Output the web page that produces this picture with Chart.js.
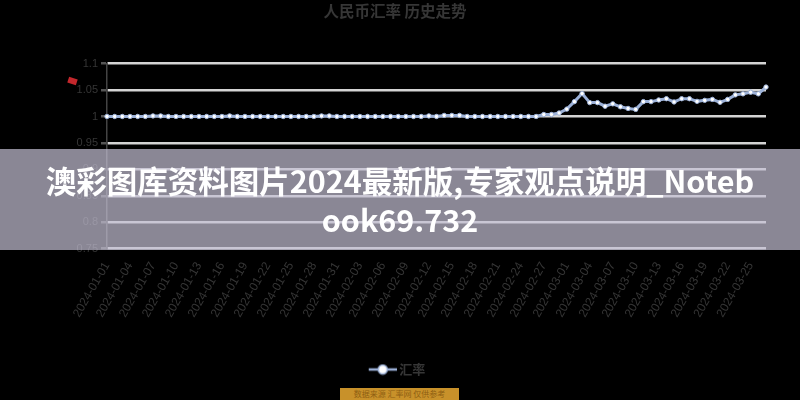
<!DOCTYPE html>
<html>
<head>
<meta charset="utf-8">
<script src="https://cdn.jsdelivr.net/npm/chart.js@4.4.1/dist/chart.umd.min.js"></script>
<style>
    html, body { margin: 0; padding: 0; background: #000; }
    #wrap { position: relative; width: 800px; height: 400px; overflow: hidden; }
    #banner {
        position: absolute; left: 0; top: 149px; width: 800px; height: 101px;
        background: rgba(196, 193, 212, 0.7);
        color: #fff; font-family: "Noto Sans CJK SC", "Noto Sans", sans-serif;
        font-weight: 700; font-size: 30.5px; line-height: 39px; text-align: center;
        padding-top: 12px; box-sizing: border-box; white-space: nowrap;
    }
    #marker {
        position: absolute; left: 68px; top: 78px; width: 9px; height: 6px;
        background: #c3272c; transform: rotate(18deg);
    }
    #source {
        position: absolute; left: 340px; top: 388px; width: 119px; height: 14px;
        background: #c8912a; color: #8f5f12; font-family: "Noto Sans CJK SC", sans-serif;
        font-size: 8px; line-height: 12px; text-align: center; white-space: nowrap;
    }
</style>
</head>
<body>
<div id="wrap">
    <canvas id="chart" width="800" height="400"></canvas>
    <div id="marker"></div>
    <div id="banner">澳彩图库资料图片2024最新版,专家观点说明_Noteb<br>ook69.732</div>
    <div id="source">数据来源 汇率网 仅供参考</div>
</div>
<script>
// Chart data
const chartTitle = '人民币汇率 历史走势';
const seriesName = '汇率';

const dateLabels = [
    '2024-01-01', '2024-01-02', '2024-01-03', '2024-01-04', '2024-01-05', '2024-01-06', '2024-01-07', '2024-01-08',
    '2024-01-09', '2024-01-10', '2024-01-11', '2024-01-12', '2024-01-13', '2024-01-14', '2024-01-15', '2024-01-16',
    '2024-01-17', '2024-01-18', '2024-01-19', '2024-01-20', '2024-01-21', '2024-01-22', '2024-01-23', '2024-01-24',
    '2024-01-25', '2024-01-26', '2024-01-27', '2024-01-28', '2024-01-29', '2024-01-30', '2024-01-31',
    '2024-02-01', '2024-02-02', '2024-02-03', '2024-02-04', '2024-02-05', '2024-02-06', '2024-02-07', '2024-02-08',
    '2024-02-09', '2024-02-10', '2024-02-11', '2024-02-12', '2024-02-13', '2024-02-14', '2024-02-15', '2024-02-16',
    '2024-02-17', '2024-02-18', '2024-02-19', '2024-02-20', '2024-02-21', '2024-02-22', '2024-02-23', '2024-02-24',
    '2024-02-25', '2024-02-26', '2024-02-27', '2024-02-28', '2024-02-29',
    '2024-03-01', '2024-03-02', '2024-03-03', '2024-03-04', '2024-03-05', '2024-03-06', '2024-03-07', '2024-03-08',
    '2024-03-09', '2024-03-10', '2024-03-11', '2024-03-12', '2024-03-13', '2024-03-14', '2024-03-15', '2024-03-16',
    '2024-03-17', '2024-03-18', '2024-03-19', '2024-03-20', '2024-03-21', '2024-03-22', '2024-03-23', '2024-03-24',
    '2024-03-25', '2024-03-26', '2024-03-27'
];

const rateValues = [
    1.000, 1.000, 1.000, 1.000, 1.000, 1.000, 1.001, 1.001, 1.000, 1.000,
    1.000, 1.000, 1.000, 1.000, 1.000, 1.000, 1.001, 1.000, 1.000, 1.000,
    1.000, 1.000, 1.000, 1.000, 1.000, 1.000, 1.000, 1.000, 1.001, 1.001,
    1.000, 1.000, 1.000, 1.000, 1.000, 1.000, 1.000, 1.000, 1.000, 1.000,
    1.000, 1.000, 1.001, 1.000, 1.002, 1.002, 1.002, 1.000, 1.000, 1.000,
    1.000, 1.000, 1.000, 1.000, 1.000, 1.000, 1.000,
    1.0037, 1.0037, 1.0066, 1.0139, 1.0281, 1.0433, 1.0262, 1.0262, 1.0194,
    1.0239, 1.0183, 1.0152, 1.0134, 1.0281, 1.0281, 1.0312, 1.0336, 1.0275,
    1.0336, 1.0336, 1.0286, 1.0305, 1.0323, 1.0268, 1.0323, 1.0409, 1.0428,
    1.0459, 1.0428, 1.0556
];

const yMin = 0.75;
const yMax = 1.1;
const yStep = 0.05;

const lineColor = '#9cb1d8';
const textColor = '#363636';

// Legend icon: line with a hollow circle, like the original legend
// (8px transparent margin on the left so the icon sits where the original one does)
function legendIcon() {
    const c = document.createElement('canvas');
    c.width = 36;
    c.height = 12;
    const g = c.getContext('2d');
    g.strokeStyle = lineColor;
    g.lineWidth = 2.5;
    g.beginPath();
    g.moveTo(8, 6);
    g.lineTo(36, 6);
    g.stroke();
    g.beginPath();
    g.arc(22, 6, 4.5, 0, Math.PI * 2);
    g.fillStyle = '#fff';
    g.fill();
    g.lineWidth = 1.5;
    g.stroke();
    return c;
}

const ctx = document.getElementById('chart').getContext('2d');

new Chart(ctx, {
    type: 'line',
    data: {
        labels: dateLabels,
        datasets: [{
            label: seriesName,
            data: rateValues,
            borderColor: lineColor,
            borderWidth: 3,
            tension: 0,
            pointRadius: 2.2,
            pointBackgroundColor: '#ffffff',
            pointBorderColor: lineColor,
            pointBorderWidth: 1
        }]
    },
    options: {
        responsive: false,
        animation: false,
        layout: { padding: { left: 24, right: 34, top: 0, bottom: 14 } },
        plugins: {
            title: {
                display: true,
                text: chartTitle,
                color: textColor,
                font: { size: 15.5, weight: 'bold', family: '"Noto Sans CJK SC", sans-serif' },
                padding: { top: 2, bottom: 43 }
            },
            legend: {
                position: 'bottom',
                labels: {
                    usePointStyle: true,
                    pointStyle: legendIcon(),
                    pointStyleWidth: 28,
                    color: textColor,
                    padding: 40,
                    font: { size: 13, weight: 'bold', family: '"Noto Sans CJK SC", sans-serif' }
                }
            },
            tooltip: { enabled: false }
        },
        scales: {
            y: {
                min: yMin,
                max: yMax,
                afterFit: (scale) => { scale.width = 83; },
                ticks: {
                    stepSize: yStep,
                    color: textColor,
                    padding: 3,
                    font: { size: 11 },
                    callback: (value) => String(parseFloat(value.toFixed(2)))
                },
                grid: {
                    color: '#d4d4d4',
                    lineWidth: 2.5,
                    tickColor: '#555',
                    tickLength: 6
                },
                border: { color: '#444', width: 1.5 }
            },
            x: {
                grid: { display: false },
                border: { display: false },
                ticks: {
                    autoSkip: false,
                    minRotation: 60,
                    maxRotation: 60,
                    color: textColor,
                    font: { size: 12 },
                    callback: function (value, index) {
                        return index % 3 === 0 ? this.getLabelForValue(value) : '';
                    }
                }
            }
        }
    }
});
</script>
</body>
</html>
